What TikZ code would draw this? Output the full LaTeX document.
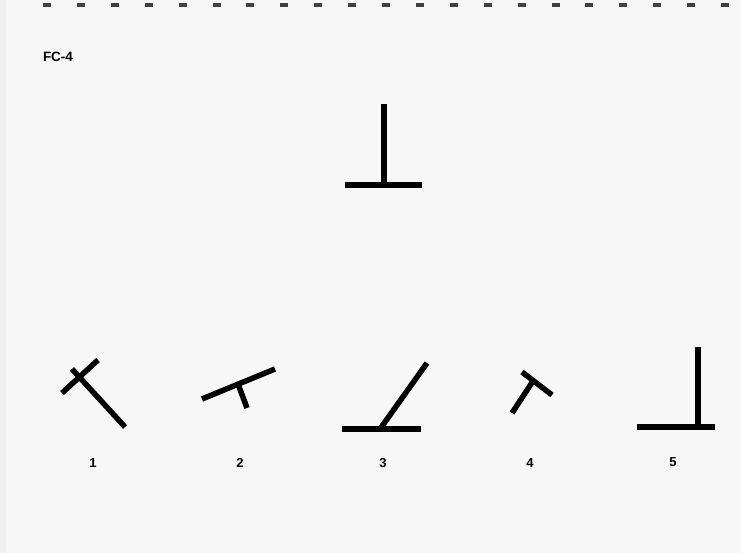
\documentclass[tikz,border=0pt]{standalone}
\usepackage{fontspec}
\setmainfont{Liberation Sans}
\usetikzlibrary{calc}

\begin{document}
\begin{tikzpicture}[x=1pt,y=-1pt,bar/.style={line width=5.5pt},num/.style={font=\bfseries\fontsize{13}{13}\selectfont}]
\useasboundingbox (0,0) rectangle (741,553);
\fill[black!3] (0,0) rectangle (741,553);
\fill[black!6] (0,0) rectangle (6,553);
% marks along the top edge
\foreach \i in {0,...,20} \fill[black!75] ({43+33.9*\i},3.5) rectangle ++(8,4);
\node[font=\bfseries\fontsize{13.5}{13.5}\selectfont] (fc) at (58,57) {FC-4};
% model
\coordinate (T1) at (384,104); \coordinate (T2) at (384,185); \coordinate (TL) at (345,185); \coordinate (TR) at (422,185);
\draw[bar] (T1)--(T2); \draw[bar] (TL)--(TR);
% 1
\coordinate (A1) at (62,393); \coordinate (A2) at (98,360); \coordinate (A3) at (72,369); \coordinate (A4) at (125,427);
\draw[bar] (A1)--(A2); \draw[bar] (A3)--(A4);
\node[num] (n1) at (93,463) {1};
% 2
\coordinate (B1) at (202,399); \coordinate (B2) at (275,369); \coordinate (B3) at (238,384); \coordinate (B4) at (247,408);
\draw[bar] (B1)--(B2); \draw[bar] (B3)--(B4);
\node[num] (n2) at (240,463) {2};
% 3
\coordinate (C1) at (342,429); \coordinate (C2) at (421,429); \coordinate (C3) at (380,429); \coordinate (C4) at (427,363);
\draw[bar] (C1)--(C2); \draw[bar] (C3)--(C4);
\node[num] (n3) at (383,463) {3};
% 4
\coordinate (D1) at (522,372); \coordinate (D2) at (552,395); \coordinate (D3) at (533,381); \coordinate (D4) at (512,413);
\draw[bar] (D1)--(D2); \draw[bar] (D3)--(D4);
\node[num] (n4) at (530,463) {4};
% 5
\coordinate (E1) at (698,347); \coordinate (E2) at (698,427); \coordinate (EL) at (637,427); \coordinate (ER) at (715,427);
\draw[bar] (E1)--(E2); \draw[bar] (EL)--(ER);
\node[num] (n5) at (673,462) {5};
\end{tikzpicture}
\end{document}
